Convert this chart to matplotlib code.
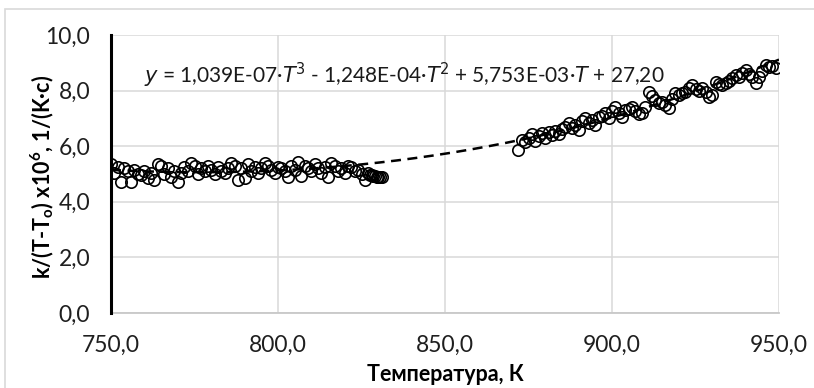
import numpy as np
import matplotlib.pyplot as plt
from matplotlib.patches import Rectangle
from matplotlib.ticker import FuncFormatter

plt.rcParams['font.family'] = ['Lato', 'Open Sans', 'DejaVu Sans']

# low-temperature part of the data
T_low = [750, 751, 752, 753, 754, 755, 756, 757, 758, 759,
         760, 761, 762, 763, 764, 765, 766, 767, 768, 769,
         770, 771, 772, 773, 774, 775, 776, 777, 778, 779,
         780, 781, 782, 783, 784, 785, 786, 787, 788, 789,
         790, 791, 792, 793, 794, 795, 796, 797, 798, 799,
         800, 801, 802, 803, 804, 805, 806, 807, 808, 809,
         810, 811, 812, 813, 814, 815, 816, 817, 818, 819,
         820, 821, 822, 823, 824, 825, 826, 827, 827.5, 828,
         828.5, 829, 829.5, 830, 830.5, 831]
k_low = [5.35, 5.05, 5.25, 4.70, 5.20, 5.10, 4.72, 5.15, 5.00, 4.95,
         5.10, 4.85, 5.05, 4.80, 5.35, 5.30, 5.00, 5.20, 4.90, 5.10,
         4.70, 5.05, 5.25, 5.10, 5.38, 5.30, 5.00, 5.20, 5.10, 5.30,
         5.15, 5.00, 5.25, 5.10, 5.05, 5.20, 5.40, 5.30, 4.80, 5.20,
         4.85, 5.35, 5.10, 5.25, 5.05, 5.20, 5.38, 5.30, 5.15, 5.05,
         5.25, 5.20, 5.10, 4.90, 5.30, 5.15, 5.42, 4.92, 5.30, 5.20,
         5.10, 5.35, 5.20, 5.05, 5.25, 4.90, 5.40, 5.30, 5.10, 5.20,
         5.05, 5.30, 5.25, 5.10, 5.15, 5.00, 4.78, 5.05, 4.98, 4.95,
         4.93, 4.92, 4.91, 4.90, 4.90, 4.90]

# high-temperature part
T_high = list(range(872, 950))
k_high = [5.86, 6.22, 6.15, 6.30, 6.45, 6.20, 6.35, 6.48, 6.30, 6.50,
          6.40, 6.55, 6.45, 6.62, 6.70, 6.85, 6.65, 6.78, 6.58, 6.90,
          7.00, 6.85, 6.95, 6.76, 7.05, 7.10, 7.19, 7.00, 7.25, 7.41,
          7.20, 7.05, 7.30, 7.35, 7.41, 7.25, 7.15, 7.19, 7.40, 7.95,
          7.80, 7.66, 7.55, 7.60, 7.50, 7.37, 7.70, 7.90, 7.85, 7.90,
          7.95, 8.10, 8.20, 8.05, 8.00, 8.10, 7.95, 7.77, 7.85, 8.30,
          8.25, 8.20, 8.27, 8.35, 8.45, 8.56, 8.50, 8.65, 8.74, 8.60,
          8.50, 8.27, 8.50, 8.70, 8.92, 8.85, 8.90, 8.80]

# cubic trend, coefficients as printed on the chart
coef = [1.039e-07, -1.248e-04, 5.753e-03, 27.20]
eq_text = (r'$\it{y}$ = 1,039E-07·$\it{T}$$^3$ - 1,248E-04·$\it{T}$$^2$'
           r' + 5,753E-03·$\it{T}$ + 27,20')

fig = plt.figure(figsize=(8.14, 3.88), dpi=100)
fig.patches.append(Rectangle((5 / 814, -0.1), 1.2, 1 - 9 / 388 + 0.1,
                             transform=fig.transFigure, fill=False,
                             edgecolor='#d9d9d9', linewidth=1.2))
ax = fig.add_axes([111 / 814, 1 - 313 / 388, 668 / 814, 278 / 388])

T_fit = np.linspace(750, 950, 300)
ax.plot(T_fit, np.polyval(coef, T_fit), color='black', lw=1.8,
        linestyle=(0, (4, 2.6)), zorder=2)
ax.plot(T_low, k_low, 'o', mfc='none', mec='black', ms=8.2, mew=1.2, zorder=3)
ax.plot(T_high, k_high, 'o', mfc='none', mec='black', ms=8.2, mew=1.2, zorder=3)

ax.set_xlim(750, 950)
ax.set_ylim(0, 10)
ax.set_xticks(np.arange(750, 951, 50))
ax.set_yticks(np.arange(0, 10.1, 2))
fmt = FuncFormatter(lambda v, p: f'{v:.1f}'.replace('.', ','))
ax.xaxis.set_major_formatter(fmt)
ax.yaxis.set_major_formatter(fmt)
ax.tick_params(length=0, labelsize=16.5, colors='#1f1f1f')
ax.tick_params(axis='x', pad=16)
ax.tick_params(axis='y', pad=15)
ax.grid(True, color='#d9d9d9', lw=1.1)
ax.set_axisbelow(True)
for s in ['top', 'right']:
    ax.spines[s].set_visible(False)
ax.spines['bottom'].set_color('#c8c8c8')
ax.spines['bottom'].set_linewidth(1.3)
ax.spines['left'].set_color('black')
ax.spines['left'].set_linewidth(2.2)
ax.spines['left'].set_zorder(4)

ax.text(759.9, 8.27, eq_text, fontsize=15, va='baseline', color='#1a1a1a')

ax.set_xlabel('Температура, К', fontsize=15.5, fontweight='bold')
ax.xaxis.set_label_coords(0.5, -0.185)
ax.set_ylabel('k/(T-T$_\\mathregular{o}$) x10$^\\mathregular{6}$, 1/(K·c)',
              fontsize=15.5, fontweight='bold')
ax.yaxis.set_label_coords(-0.082, 0.49)

fig.savefig('out.png', dpi=100)
